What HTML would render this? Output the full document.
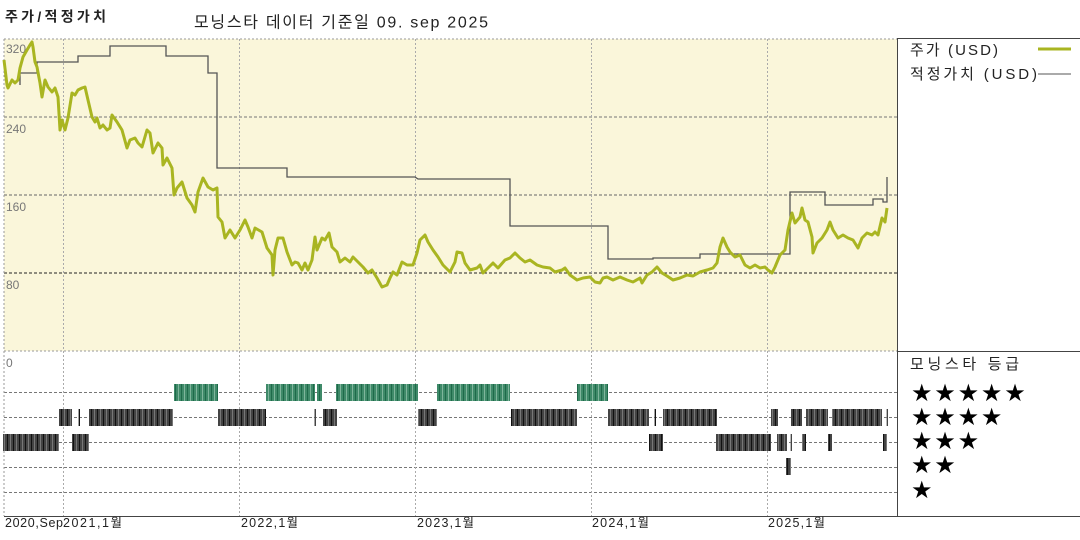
<!DOCTYPE html>
<html><head><meta charset="utf-8"><style>
html,body{margin:0;padding:0;background:#fff;}
svg{display:block;font-family:"Liberation Sans","Noto Sans CJK KR",sans-serif;}
</style></head><body>
<svg width="1080" height="540" viewBox="0 0 1080 540" xmlns="http://www.w3.org/2000/svg">
<defs>
<pattern id="pb" patternUnits="userSpaceOnUse" width="6" height="20">
<rect width="6" height="20" fill="#444"/>
<rect x="1" width="1" height="20" fill="#111"/>
<rect x="4" width="1" height="20" fill="#777"/>
</pattern>
<pattern id="pg" patternUnits="userSpaceOnUse" width="6" height="20">
<rect width="6" height="20" fill="#3f8a69"/>
<rect x="1" width="1" height="20" fill="#1e6a4a"/>
<rect x="4" width="1" height="20" fill="#7fb59c"/>
</pattern>
</defs>

<!-- titles -->
<text x="5" y="21.5" font-size="14" font-weight="bold" fill="#222" textLength="101" lengthAdjust="spacing">주가/적정가치</text>
<text x="194" y="27.5" font-size="16" fill="#222" textLength="294" lengthAdjust="spacing">모닝스타 데이터 기준일 09. sep 2025</text>

<!-- cream area -->
<rect x="4" y="39" width="893" height="312" fill="#faf6da"/>

<!-- horizontal gridlines top -->
<line x1="4" y1="39" x2="897" y2="39" stroke="#999" stroke-dasharray="2,2"/>
<line x1="4" y1="117" x2="897" y2="117" stroke="#777" stroke-dasharray="3,2"/>
<line x1="4" y1="195" x2="897" y2="195" stroke="#666" stroke-dasharray="3,2"/>
<line x1="4" y1="273" x2="897" y2="273" stroke="#222" stroke-dasharray="3,2"/>
<line x1="4" y1="351" x2="897" y2="351" stroke="#999" stroke-dasharray="2,2"/>

<!-- bottom rows -->
<g stroke="#777" stroke-dasharray="3,2">
<line x1="4" y1="392.5" x2="897" y2="392.5"/>
<line x1="4" y1="417.5" x2="897" y2="417.5"/>
<line x1="4" y1="442.5" x2="897" y2="442.5"/>
<line x1="4" y1="467.5" x2="897" y2="467.5"/>
<line x1="4" y1="492.5" x2="897" y2="492.5"/>
</g>

<!-- vertical dotted -->
<g stroke="#aaa" stroke-dasharray="2,2">
<line x1="4" y1="39" x2="4" y2="516" stroke="#999"/>
<line x1="63.5" y1="39" x2="63.5" y2="516"/>
<line x1="239.5" y1="39" x2="239.5" y2="516"/>
<line x1="415.5" y1="39" x2="415.5" y2="516"/>
<line x1="591.5" y1="39" x2="591.5" y2="516"/>
<line x1="767.5" y1="39" x2="767.5" y2="516"/>
</g>

<!-- y labels -->
<g font-size="12" fill="#777">
<text x="6" y="53">320</text>
<text x="6" y="133">240</text>
<text x="6" y="211">160</text>
<text x="6" y="289">80</text>
<text x="6" y="367">0</text>
</g>

<!-- fair value -->
<path d="M20,85 V73 H37 V62 H78 V56 H110 V46 H166 V56 H208 V73 H217 V168 H287 V177 H415 L418,179 H510 V226 H608 V259 H653 V258 H700 V254 H790 V192 H825 V205 H873 V199 H883 V202 H887 V177" fill="none" stroke="#555" stroke-width="1.3"/>

<!-- price -->
<polyline fill="none" stroke="#a9b521" stroke-width="3" stroke-linejoin="round" points="4,60 7,85 8,88 12,80 15,83 18,80 20,68 23,57 27,50 30,45 32,42 33,47 35,62 37,67 40,83 42,97 45,80 48,87 52,92 55,88 58,97 60,130 62,120 65,130 68,118 72,93 75,95 78,90 82,88 85,87 88,100 92,117 95,122 97,118 100,128 103,125 107,130 110,128 112,115 117,122 122,130 127,148 130,140 135,138 138,143 142,147 147,130 150,133 153,153 158,143 162,148 163,165 167,158 172,168 174,195 177,188 182,182 187,198 192,205 195,212 198,192 203,178 208,187 213,190 217,188 218,217 222,222 225,238 230,230 235,238 240,230 245,220 248,227 252,238 255,228 262,232 267,248 272,255 273,275 275,250 278,238 283,238 287,252 292,265 295,262 298,263 302,270 305,263 308,270 312,260 315,237 317,250 322,238 325,240 329,233 332,247 337,252 340,262 345,258 350,262 353,257 358,262 363,267 368,273 372,270 377,278 382,287 387,285 390,278 393,272 397,275 402,262 407,265 413,265 417,253 420,240 425,235 428,242 433,250 438,257 443,265 450,272 455,262 457,252 462,253 465,263 470,270 477,268 480,265 483,273 488,268 493,263 498,268 505,260 510,258 515,253 520,258 525,262 530,260 537,265 543,267 550,268 555,272 562,270 565,268 570,275 577,280 583,278 590,277 595,282 600,283 603,278 607,277 613,280 620,277 627,280 633,282 640,278 642,283 647,275 652,272 657,267 662,273 667,276 673,280 680,278 687,275 693,276 700,272 707,270 713,268 717,263 720,247 723,238 727,247 730,252 735,257 740,255 745,265 750,268 755,265 760,268 765,267 768,270 772,273 775,267 780,255 785,250 788,230 792,213 795,223 800,217 802,208 805,220 808,222 812,237 813,253 817,243 822,238 827,230 830,222 833,230 838,238 843,235 848,238 853,240 858,248 862,238 867,233 872,235 875,232 878,235 882,218 885,222 887,208"/>

<!-- rating bars -->
<g fill="url(#pg)">
<rect x="174" y="384" width="44" height="17"/>
<rect x="266" y="384" width="49" height="17"/>
<rect x="317" y="384" width="5" height="17"/>
<rect x="336" y="384" width="82" height="17"/>
<rect x="437" y="384" width="73" height="17"/>
<rect x="577" y="384" width="31" height="17"/>
</g>
<g fill="url(#pb)">
<rect x="59" y="409" width="13" height="17"/>
<rect x="78.5" y="409" width="1.5" height="17"/>
<rect x="89" y="409" width="84" height="17"/>
<rect x="218" y="409" width="48" height="17"/>
<rect x="314.5" y="409" width="1.5" height="17"/>
<rect x="323" y="409" width="14" height="17"/>
<rect x="418" y="409" width="19" height="17"/>
<rect x="511" y="409" width="66" height="17"/>
<rect x="608" y="409" width="41" height="17"/>
<rect x="654.5" y="409" width="1.5" height="17"/>
<rect x="663" y="409" width="54" height="17"/>
<rect x="771" y="409" width="7" height="17"/>
<rect x="791" y="409" width="11" height="17"/>
<rect x="806" y="409" width="22" height="17"/>
<rect x="832" y="409" width="50" height="17"/>
<rect x="886.5" y="409" width="1.5" height="17"/>

<rect x="3" y="434" width="56" height="17"/>
<rect x="72" y="434" width="17" height="17"/>
<rect x="649" y="434" width="14" height="17"/>
<rect x="716" y="434" width="55" height="17"/>
<rect x="777" y="434" width="10" height="17"/>
<rect x="790.5" y="434" width="1.5" height="17"/>
<rect x="802" y="434" width="4" height="17"/>
<rect x="828" y="434" width="4" height="17"/>
<rect x="883" y="434" width="4" height="17"/>

<rect x="786" y="458" width="5" height="17"/>
</g>

<!-- frame lines -->
<line x1="897.5" y1="38" x2="897.5" y2="516" stroke="#444"/>
<line x1="897" y1="38.5" x2="1080" y2="38.5" stroke="#444"/>
<line x1="897" y1="351.5" x2="1080" y2="351.5" stroke="#444"/>
<line x1="4" y1="516.5" x2="1080" y2="516.5" stroke="#444"/>

<!-- legend -->
<text x="910" y="55" font-size="15" fill="#222" textLength="88" lengthAdjust="spacing">주가 (USD)</text>
<line x1="1038" y1="49" x2="1071" y2="49" stroke="#a9b521" stroke-width="3"/>
<text x="910" y="79" font-size="15" fill="#222" textLength="127" lengthAdjust="spacing">적정가치 (USD)</text>
<line x1="1038" y1="74" x2="1071" y2="74" stroke="#555" stroke-width="1"/>

<text x="910" y="369" font-size="15" fill="#222" textLength="109" lengthAdjust="spacing">모닝스타 등급</text>
<g font-family="DejaVu Sans, sans-serif" font-size="24" fill="#000">
<text x="911 934.3 957.6 980.9 1004.2" y="401">★★★★★</text>
<text x="911 934.3 957.6 980.9" y="425">★★★★</text>
<text x="911 934.3 957.6" y="449">★★★</text>
<text x="911 934.3" y="473">★★</text>
<text x="911" y="498">★</text>
</g>

<!-- x labels -->
<g font-size="12.5" fill="#222">
<text x="5" y="527" textLength="58" lengthAdjust="spacing">2020,Sep</text>
<text x="63" y="527" textLength="59" lengthAdjust="spacing">2021,1월</text>
<text x="241" y="527" textLength="57" lengthAdjust="spacing">2022,1월</text>
<text x="417" y="527" textLength="57" lengthAdjust="spacing">2023,1월</text>
<text x="592" y="527" textLength="57" lengthAdjust="spacing">2024,1월</text>
<text x="768" y="527" textLength="57" lengthAdjust="spacing">2025,1월</text>
</g>
</svg>
</body></html>
